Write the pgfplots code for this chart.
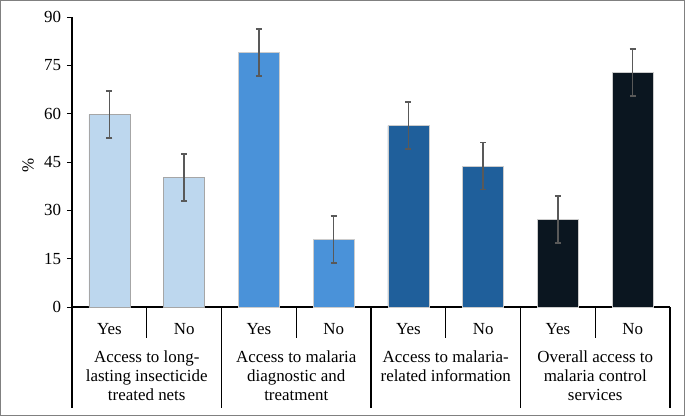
\documentclass[border=0pt]{standalone}
\usepackage{pgfplots}
\pgfplotsset{compat=1.18}
\usepackage{fontspec}
\setmainfont{Liberation Serif}
\definecolor{c1}{HTML}{BDD7EE}
\definecolor{c2}{HTML}{4A92D9}
\definecolor{c3}{HTML}{1F5F9B}
\definecolor{c4}{HTML}{0B1620}
\definecolor{eb}{HTML}{595959}
\begin{document}
\fontsize{17}{19}\selectfont
\begin{tikzpicture}[
  grp/.style={anchor=north, align=center, font=\fontsize{17}{19}\selectfont, inner sep=0pt, yshift=-44bp},
  sep/.style={line width=1.2bp, black},
]
\begin{axis}[
  at={(0,0)}, anchor=south west,
  scale only axis, width=598bp, height=290bp,
  xmin=-0.5, xmax=7.5, ymin=0, ymax=90,
  axis x line*=bottom, axis y line*=left,
  axis line style={line width=1.2bp, black},
  ytick={0,15,30,45,60,75,90},
  xtick={0,...,7}, xticklabels={Yes,No,Yes,No,Yes,No,Yes,No},
  x tick label style={yshift=-6bp},
  major x tick style={draw=none},
  y tick style={line width=1bp, black},
  tick align=outside, major tick length=5bp,
  /pgf/number format/assume math mode=true,
  ticklabel style={font=\fontsize{17}{19}\selectfont},
  clip=false,
  ybar=0pt, bar width=41bp, bar shift=0pt,
  error bars/y dir=both, error bars/y explicit,
  error bars/error bar style={line width=1.5bp, eb},
  error bars/error mark options={rotate=90, mark size=3bp, line width=1.5bp, eb},
]
\addplot[fill=c1, draw=gray!70, line width=0.6bp] coordinates {(0,59.8) +- (0,7.3) (1,40.2) +- (0,7.3)};
\addplot[fill=c2, draw=gray!40, line width=0.6bp] coordinates {(2,79.0) +- (0,7.3) (3,21.0) +- (0,7.3)};
\addplot[fill=c3, draw=gray!40, line width=0.6bp] coordinates {(4,56.3) +- (0,7.3) (5,43.7) +- (0,7.3)};
\addplot[fill=c4, draw=gray!40, line width=0.6bp] coordinates {(6,27.2) +- (0,7.3) (7,72.8) +- (0,7.3)};
\draw[sep] (axis cs:0.5,0) -- ([yshift=-31bp]axis cs:0.5,0);
\draw[sep] (axis cs:2.5,0) -- ([yshift=-31bp]axis cs:2.5,0);
\draw[sep] (axis cs:4.5,0) -- ([yshift=-31bp]axis cs:4.5,0);
\draw[sep] (axis cs:6.5,0) -- ([yshift=-31bp]axis cs:6.5,0);
\draw[sep] (axis cs:-0.5,0) -- ([yshift=-101bp]axis cs:-0.5,0);
\draw[sep] (axis cs:1.5,0) -- ([yshift=-101bp]axis cs:1.5,0);
\draw[sep] (axis cs:3.5,0) -- ([yshift=-101bp]axis cs:3.5,0);
\draw[sep] (axis cs:5.5,0) -- ([yshift=-101bp]axis cs:5.5,0);
\draw[sep] (axis cs:7.5,0) -- ([yshift=-101bp]axis cs:7.5,0);
\node[grp] at (axis cs:0.5,0) {Access to long-\\lasting insecticide\\treated nets};
\node[grp] at (axis cs:2.5,0) {Access to malaria\\diagnostic and\\treatment};
\node[grp] at (axis cs:4.5,0) {Access to malaria-\\related information};
\node[grp] at (axis cs:6.5,0) {Overall access to\\malaria control\\services};
\node[rotate=90, font=\fontsize{17}{19}\selectfont] at ([xshift=-44bp,yshift=-3bp]axis description cs:0,0.5) {\%};
\end{axis}
\draw[line width=1.5bp, gray] (-71.25bp,-108.25bp) rectangle (612.25bp,306.25bp);
\end{tikzpicture}
\end{document}
